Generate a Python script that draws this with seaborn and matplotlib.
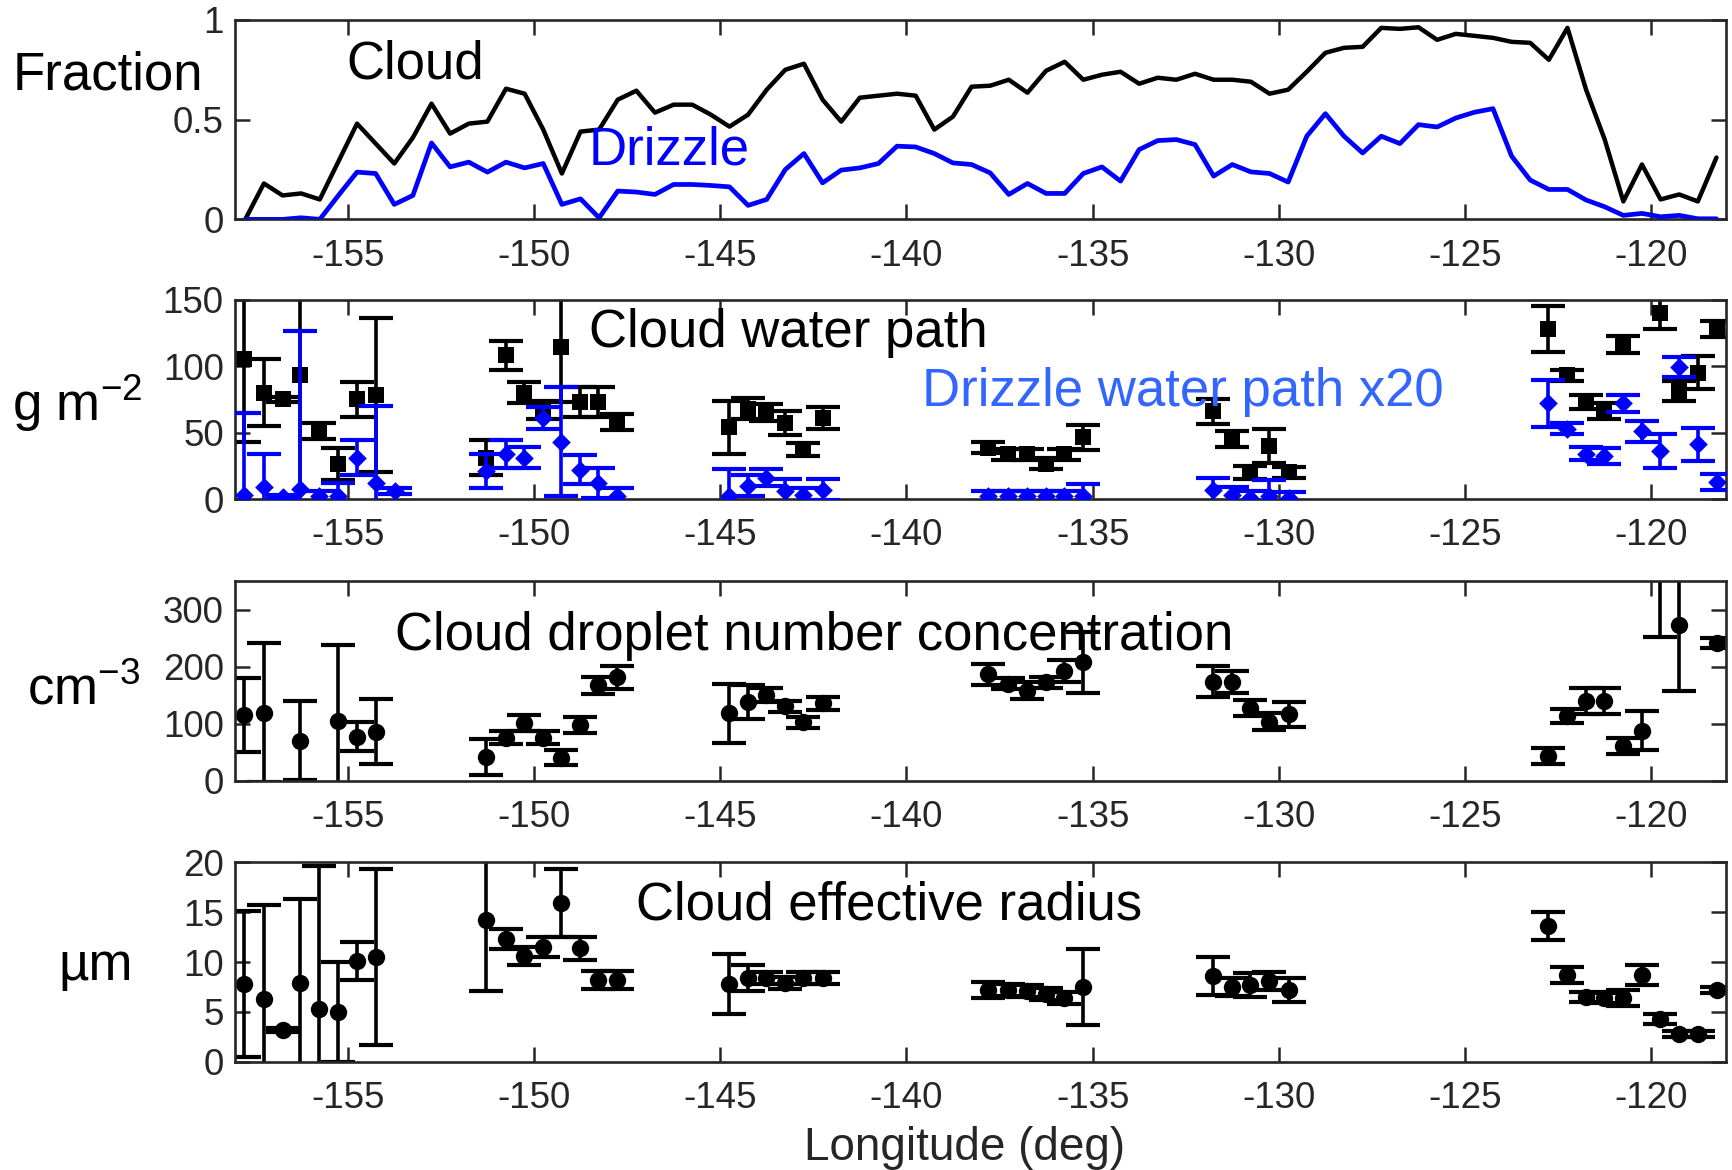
import numpy as np
import pandas as pd
import matplotlib
matplotlib.use("Agg")
import matplotlib.pyplot as plt
import seaborn as sns

nan = np.nan

# ---------------- data ----------------
frac_lon = [-157.75, -157.25, -156.75, -156.25, -155.75, -155.25, -154.75, -154.25, -153.75, -153.25,
            -152.75, -152.25, -151.75, -151.25, -150.75, -150.25, -149.75, -149.25, -148.75, -148.25,
            -147.75, -147.25, -146.75, -146.25, -145.75, -145.25, -144.75, -144.25, -143.75, -143.25,
            -142.75, -142.25, -141.75, -141.25, -140.75, -140.25, -139.75, -139.25, -138.75, -138.25,
            -137.75, -137.25, -136.75, -136.25, -135.75, -135.25, -134.75, -134.25, -133.75, -133.25,
            -132.75, -132.25, -131.75, -131.25, -130.75, -130.25, -129.75, -129.25, -128.75, -128.25,
            -127.75, -127.25, -126.75, -126.25, -125.75, -125.25, -124.75, -124.25, -123.75, -123.25,
            -122.75, -122.25, -121.75, -121.25, -120.75, -120.25, -119.75, -119.25, -118.75, -118.25]

cloud_frac = [0.0, 0.18, 0.12, 0.13, 0.10, 0.29, 0.48, 0.38, 0.28, 0.41,
              0.58, 0.43, 0.48, 0.49, 0.655, 0.63, 0.45, 0.23, 0.44, 0.45,
              0.60, 0.645, 0.535, 0.575, 0.575, 0.525, 0.465, 0.525, 0.65, 0.75,
              0.78, 0.60, 0.49, 0.61, 0.62, 0.63, 0.62, 0.45, 0.515, 0.665,
              0.67, 0.70, 0.635, 0.745, 0.79, 0.70, 0.725, 0.74, 0.68, 0.71,
              0.70, 0.73, 0.70, 0.70, 0.69, 0.63, 0.65, 0.74, 0.835, 0.86,
              0.865, 0.96, 0.955, 0.963, 0.90, 0.93, 0.92, 0.91, 0.89, 0.885,
              0.80, 0.96, 0.65, 0.40, 0.09, 0.275, 0.10, 0.125, 0.09, 0.31]

drizzle_frac = [0.0, 0.0, 0.0, 0.008, 0.0, 0.12, 0.237, 0.23, 0.075, 0.12,
                0.383, 0.263, 0.287, 0.237, 0.287, 0.258, 0.28, 0.075, 0.103, 0.008,
                0.142, 0.137, 0.125, 0.175, 0.175, 0.17, 0.163, 0.07, 0.10, 0.25,
                0.33, 0.183, 0.247, 0.258, 0.28, 0.367, 0.363, 0.33, 0.283, 0.275,
                0.233, 0.125, 0.18, 0.13, 0.13, 0.23, 0.263, 0.192, 0.35, 0.395,
                0.40, 0.375, 0.217, 0.275, 0.238, 0.23, 0.187, 0.417, 0.53, 0.417,
                0.333, 0.417, 0.38, 0.475, 0.463, 0.508, 0.537, 0.555, 0.317, 0.197,
                0.15, 0.15, 0.097, 0.063, 0.02, 0.03, 0.013, 0.02, 0.003, 0.003]

sample_lon = [-157.78, -157.26, -156.75, -156.27, -155.77, -155.26, -154.75, -154.25, -153.74,
              -151.28, -150.76, -150.26, -149.77, -149.27, -148.77, -148.28, -147.77,
              -144.75, -144.26, -143.78, -143.26, -142.77, -142.25,
              -137.80, -137.28, -136.77, -136.25, -135.77, -135.26,
              -131.77, -131.26, -130.77, -130.26, -129.74,
              -122.77, -122.26, -121.76, -121.26, -120.76, -120.26, -119.76, -119.26, -118.74, -118.24]

cwp = [105, 80, 75, 93, 51, 26, 75, 78, nan,
       31, 108, 80, 67, 114, 73, 73, 58,
       54, 68, 65, 57, 37, 61,
       38.5, 33.5, 33.5, 26.5, 33.5, 46.5,
       66, 45, 20, 40, 20,
       128, 93, 73, 66, 116, nan, 140, 81, 95, 128]
cwp_err = [62, 25, 2, 119, 6, 12, 13, 58, nan,
           13, 11, 8, 7, 41, 11, 11, 6,
           20, 8, 6.5, 9, 5, 8,
           4, 4, 4, 4, 4, 9.5,
           9.5, 6, 5, 13, 4,
           17.5, 4, 5, 6, 6.5, nan, 12, 7.5, 12.5, 6]

dwp20 = [3, 9, 1.8, 7.5, 2, 2, 31, 12, 6,
         21, 34, 31, 61, 43, 22, 12, 2,
         2.5, 10, 16, 6, 3, 7,
         2, 2, 2, 2, 2, 2,
         6.5, 3, 1, 2, 1,
         72, 53, 34, 32, 72, 51, 36, 99, 41, 13]
dwp20_err = [62, 25, 1, 119, 4, 10, 13, 58, 2,
             13, 10.5, 8, 8, 41, 11, 11, 6,
             20, 8, 6.5, 9, 5, 8,
             4, 4, 4, 4, 4, 9.5,
             9.5, 6, 5, 12, 4,
             17.5, 4, 5, 6, 6.5, 8, 13, 7.5, 12.5, 6]

nd = [115, 120, nan, 71, nan, 106, 78, 86, nan,
      42, 76, 102, 76, 41, 98, 168, 182,
      119, 138, 151, 131, 103, 136,
      187, 171, 158, 173, 193, 208,
      174, 174, 128, 104, 117,
      43, 114, 140, 140, 61, 88, 375, 274, nan, 242]
nd_err = [65, 122, nan, 69, nan, 132, 25, 57, nan,
          31, 12, 14.5, 12, 13.7, 14.6, 14.6, 20,
          52, 30, 12, 10, 10, 11,
          19, 10, 15, 10, 20, 53,
          27, 19, 14, 15, 22,
          14, 12, 23, 23, 14, 34, 123, 117, nan, 8]

reff = [7.8, 6.3, 3.2, 7.9, 5.3, 5.0, 10.1, 10.5, nan,
        14.2, 12.3, 10.6, 11.5, 15.9, 11.4, 8.2, 8.2,
        7.8, 8.4, 8.4, 7.9, 8.4, 8.4,
        7.2, 7.2, 7.1, 6.8, 6.4, 7.5,
        8.6, 7.5, 7.7, 8.1, 7.2,
        13.6, 8.7, 6.5, 6.4, 6.4, 8.7, 4.3, 2.8, 2.8, 7.2]
reff_err = [7.3, 9.4, 0.2, 8.4, 14.3, 5.0, 1.9, 8.8, nan,
            7.1, 1.0, 0.9, 1.0, 3.4, 1.15, 0.9, 0.9,
            3.0, 1.3, 0.6, 0.6, 0.6, 0.6,
            0.8, 0.6, 0.6, 0.6, 0.6, 3.8,
            1.9, 0.9, 1.2, 0.9, 1.2,
            1.4, 0.8, 0.5, 0.5, 0.8, 1.0, 0.5, 0.3, 0.3, 0.3]

xticks = [-155, -150, -145, -140, -135, -130, -125, -120]
xtick_labels = ["-155", "-150", "-145", "-140", "-135", "-130", "-125", "-120"]
frac_yticks = [0, 0.5, 1]
frac_yticklabels = ["0", "0.5", "1"]
cwp_yticks = [0, 50, 100, 150]
nd_yticks = [0, 100, 200, 300]
reff_yticks = [0, 5, 10, 15, 20]

# ---------------- style ----------------
sns.set_theme(style="white")
plt.rcParams["font.family"] = ["Liberation Sans", "DejaVu Sans"]
plt.rcParams["axes.unicode_minus"] = False
plt.rcParams["mathtext.fontset"] = "custom"
plt.rcParams["mathtext.rm"] = "Liberation Sans"
plt.rcParams["mathtext.it"] = "Liberation Sans:italic"
plt.rcParams["mathtext.bf"] = "Liberation Sans:bold"

AX_COL = "#262626"
BLUE = (0, 0, 1)
fig = plt.figure(figsize=(17.32, 11.7), dpi=100)

L, W, H = 0.1356, 0.8608, 0.1705
bottoms = [0.8125, 0.5735, 0.3325, 0.0925]
axes = [fig.add_axes([L, b, W, H]) for b in bottoms]

XLIM = (-158.03, -118.0)


def style_axis(ax, yticks, yticklabels, ylim):
    ax.set_xlim(*XLIM)
    ax.set_ylim(*ylim)
    ax.set_xticks(xticks)
    ax.set_xticklabels(xtick_labels)
    ax.set_yticks(yticks)
    ax.set_yticklabels(yticklabels)
    ax.set_xlabel("")
    ax.set_ylabel("")
    ax.grid(False)
    for sp in ax.spines.values():
        sp.set_visible(True)
        sp.set_color(AX_COL)
        sp.set_linewidth(1.9)
    ax.tick_params(axis="both", which="major", direction="in", length=11, width=1.8,
                   top=True, right=True, bottom=True, left=True,
                   labelsize=26.5, colors=AX_COL)
    ax.tick_params(axis="x", pad=14)
    ax.tick_params(axis="y", pad=8)


# ---------- panel 1: fractions ----------
ax = axes[0]
sns.lineplot(x=frac_lon, y=cloud_frac, ax=ax, color="black", linewidth=3.2, sort=False,
             estimator=None, zorder=2)
sns.lineplot(x=frac_lon, y=drizzle_frac, ax=ax, color=BLUE, linewidth=3.4, sort=False,
             estimator=None, zorder=3)
style_axis(ax, frac_yticks, frac_yticklabels, (0, 1))


def err_panel(ax, y, yerr, marker, ms, color, z):
    ax.errorbar(sample_lon, y, yerr=yerr, fmt="none", ecolor=color, elinewidth=2.6,
                capsize=12, capthick=3.0, zorder=z)
    sns.scatterplot(x=sample_lon, y=y, ax=ax, marker=marker, s=ms ** 2, color=color,
                    edgecolor=color, linewidth=0, zorder=z + 0.5, legend=False)


# ---------- panel 2: water paths ----------
ax = axes[1]
err_panel(ax, cwp, cwp_err, "s", 11, "black", 2)
err_panel(ax, dwp20, dwp20_err, "D", 9.5, BLUE, 4)
style_axis(ax, cwp_yticks, [str(v) for v in cwp_yticks], (0, 150))

# ---------- panel 3: droplet number ----------
ax = axes[2]
err_panel(ax, nd, nd_err, "o", 12.5, "black", 2)
style_axis(ax, nd_yticks, [str(v) for v in nd_yticks], (0, 350))

# ---------- panel 4: effective radius ----------
ax = axes[3]
err_panel(ax, reff, reff_err, "o", 12.5, "black", 2)
style_axis(ax, reff_yticks, [str(v) for v in reff_yticks], (0, 20))

# ---------- texts ----------
FS = 38
fig.text(0.0625, 0.9355, "Fraction", fontsize=FS, ha="center", va="center", color="black")
fig.text(0.0446, 0.6555, r"g m$^{\mathregular{-2}}$", fontsize=FS, ha="center", va="center", color="black")
fig.text(0.0485, 0.4100, r"cm$^{\mathregular{-3}}$", fontsize=FS, ha="center", va="center", color="black")
fig.text(0.0552, 0.1740, "µm", fontsize=FS, ha="center", va="center", color="black")

fig.text(0.200, 0.9331, "Cloud", fontsize=FS, ha="left", va="baseline", color="black")
fig.text(0.340, 0.8590, "Drizzle", fontsize=FS, ha="left", va="baseline", color=BLUE)
fig.text(0.340, 0.7037, "Cloud water path", fontsize=FS, ha="left", va="baseline", color="black")
fig.text(0.5325, 0.6526, "Drizzle water path x20", fontsize=FS, ha="left", va="baseline",
         color="#3366FF")
fig.text(0.228, 0.4444, "Cloud droplet number concentration", fontsize=FS, ha="left",
         va="baseline", color="black")
fig.text(0.3673, 0.2137, "Cloud effective radius", fontsize=FS, ha="left", va="baseline",
         color="black")
fig.text(0.557, 0.0085, "Longitude (deg)", fontsize=33, ha="center", va="baseline",
         color=AX_COL)

fig.savefig("out.png", dpi=100)
